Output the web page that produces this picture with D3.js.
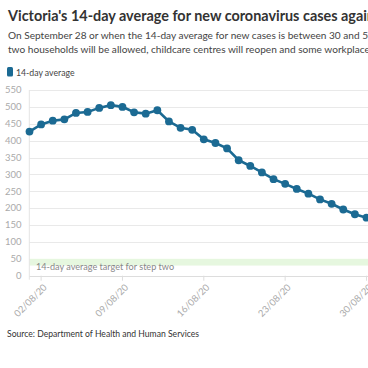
<!DOCTYPE html>
<html>
<head>
<meta charset="utf-8">
<script src="https://d3js.org/d3.v7.min.js"></script>
<style>
  body { margin: 0; overflow: hidden; background: #fff; }
  #chart { display: block; font-family: "Source Sans Pro", Lato, sans-serif; }
  .tick-label { fill: #aaa; font-size: 9.5px; }
</style>
</head>
<body>
<svg id="chart"></svg>
<script>
// daily 14-day average, 1 Aug 2020 onward
var dates = ["01/08/20","02/08/20","03/08/20","04/08/20","05/08/20","06/08/20","07/08/20","08/08/20","09/08/20","10/08/20",
             "11/08/20","12/08/20","13/08/20","14/08/20","15/08/20","16/08/20","17/08/20","18/08/20","19/08/20","20/08/20",
             "21/08/20","22/08/20","23/08/20","24/08/20","25/08/20","26/08/20","27/08/20","28/08/20","29/08/20","30/08/20"];
var avg = [427, 448, 459, 463, 482, 485, 497, 505, 500, 484,
           480, 490, 457, 438, 432, 404, 393, 377, 342, 325,
           306, 286, 272, 257, 243, 226, 213, 196, 182, 172];
var yTicks = [0, 50, 100, 150, 200, 250, 300, 350, 400, 450, 500, 550];
var xTicks = ["02/08/20", "09/08/20", "16/08/20", "23/08/20", "30/08/20"];
var target = [30, 50];

var W = 368, H = 368;
var parse = d3.timeParse("%d/%m/%y");
var data = dates.map((d, i) => ({date: parse(d), value: avg[i]}));

var svg = d3.select("#chart").attr("width", W).attr("height", H);

// header
svg.append("text").attr("x", 8).attr("y", 21)
  .attr("font-size", 14.4).attr("font-weight", 700).attr("fill", "#333")
  .text("Victoria's 14-day average for new coronavirus cases against the roadmap targets");

var sub = svg.append("text").attr("x", 8).attr("y", 39)
  .attr("font-size", 10.1).attr("fill", "#444");
sub.append("tspan").attr("x", 8).attr("dy", 0)
  .text("On September 28 or when the 14-day average for new cases is between 30 and 50, public gatherings of up to five people from");
sub.append("tspan").attr("x", 8).attr("dy", 13.5)
  .text("two households will be allowed, childcare centres will reopen and some workplaces will return.");

// legend
svg.append("rect").attr("x", 7).attr("y", 67).attr("width", 6).attr("height", 9.5).attr("rx", 1.5)
  .attr("fill", "#1b6a93");
svg.append("text").attr("x", 16).attr("y", 75.5).attr("font-size", 8.7).attr("fill", "#444")
  .text("14-day average");

var x = d3.scaleTime()
  .domain([parse("01/08/20"), parse("30/08/20")])
  .range([29.5, 366.5]);
var y = d3.scaleLinear().domain([0, 550]).range([275.7, 90]);
var x0 = 29.3, x1 = 600;

// gridlines
svg.append("g")
  .selectAll("line").data(yTicks).join("line")
  .attr("x1", x0).attr("x2", x1)
  .attr("y1", d => Math.round(y(d)) + 0.5).attr("y2", d => Math.round(y(d)) + 0.5)
  .attr("stroke", d => d === 0 ? "#ddd" : "#e9e9e9");

// target band
svg.append("rect")
  .attr("x", x0).attr("width", x1 - x0)
  .attr("y", y(target[1])).attr("height", y(target[0]) - y(target[1]))
  .attr("fill", "#e6f7df");
svg.append("text").attr("x", 36).attr("y", 270)
  .attr("font-size", 9.1).attr("fill", "#888")
  .text("14-day average target for step two");

// y axis line
svg.append("line").attr("x1", x0).attr("x2", x0).attr("y1", y(550)).attr("y2", y(0) + 4)
  .attr("stroke", "#e4e4e4");

// y labels
svg.append("g").selectAll("text").data(yTicks).join("text")
  .attr("class", "tick-label")
  .attr("x", 21.5).attr("y", d => y(d)).attr("dy", "0.35em")
  .attr("text-anchor", "end")
  .text(d => d);

// x ticks
var xt = svg.append("g").selectAll("g").data(xTicks).join("g")
  .attr("transform", d => "translate(" + x(parse(d)) + "," + y(0) + ")");
xt.append("line").attr("y1", 0).attr("y2", 5).attr("stroke", "#ddd");
xt.append("text").attr("class", "tick-label")
  .attr("transform", "translate(4,10) rotate(-45)")
  .attr("text-anchor", "end")
  .attr("dy", "0.35em")
  .text(d => d);

// line + markers
svg.append("path").datum(data)
  .attr("fill", "none").attr("stroke", "#1b6a93").attr("stroke-width", 2.6)
  .attr("d", d3.line().x(d => x(d.date)).y(d => y(d.value)));
svg.append("g").selectAll("circle").data(data).join("circle")
  .attr("cx", d => x(d.date)).attr("cy", d => y(d.value)).attr("r", 3.9)
  .attr("fill", "#1b6a93");

// source
svg.append("text").attr("x", 7).attr("y", 337)
  .attr("font-size", 8.6).attr("fill", "#333")
  .text("Source: Department of Health and Human Services");
</script>
</body>
</html>
